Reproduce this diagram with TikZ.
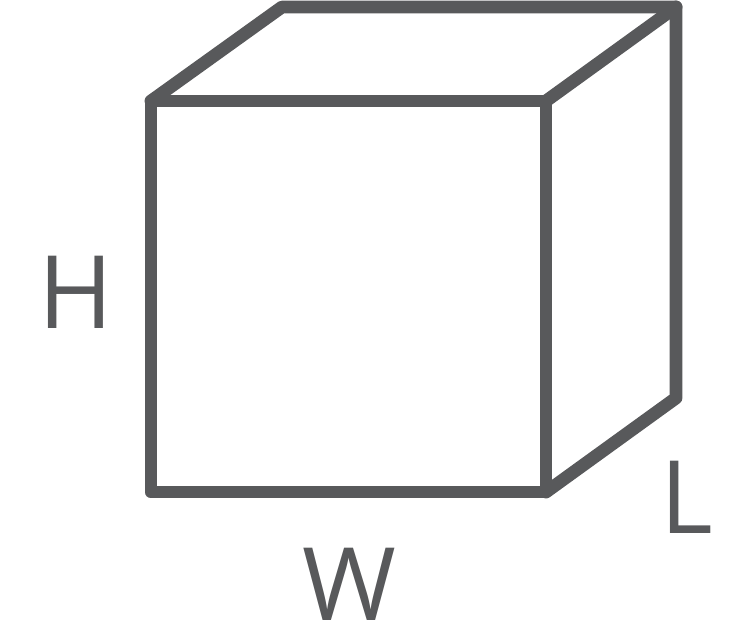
\documentclass[tikz,border=0pt]{standalone}
\usepackage{fontspec}
\setmainfont{Open Sans}
\definecolor{ink}{HTML}{58595B}
\tikzset{edge/.style={draw=ink,line width=9.6pt,line join=round,line cap=round},
lab/.style={text=ink,inner sep=0pt,anchor=base,font=\fontsize{76}{76}\selectfont}}
\begin{document}
\begin{tikzpicture}[x=0.75pt,y=-0.75pt]
\useasboundingbox (0,0) rectangle (741,643);
\fill[white] (0,0) rectangle (741,643);
\coordinate (a) at (151,101);
\coordinate (b) at (546,101);
\coordinate (c) at (546,492);
\coordinate (d) at (151,492);
\coordinate (e) at (282,7);
\coordinate (f) at (676,7);
\coordinate (g) at (676,398);
\draw[edge] (a) -- (b) -- (c) -- (d) -- cycle;
\draw[edge] (a) -- (e) -- (f) -- (g) -- (c);
\draw[edge] (b) -- (f);
\node[lab] (H) at (76,328) {H};
\node[lab] (W) at (349,620) {W};
\node[lab] (L) at (687,533) {L};
\end{tikzpicture}
\end{document}
